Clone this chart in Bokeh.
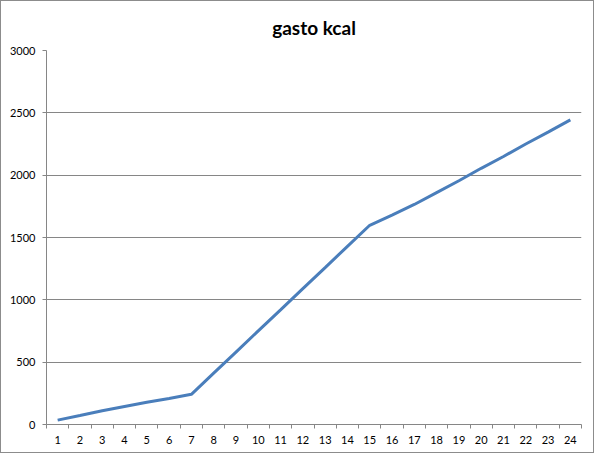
from bokeh.plotting import figure
from bokeh.models import Range1d, FixedTicker, ColumnDataSource
from bokeh.embed import file_html
from bokeh.resources import INLINE

# Data
hours = list(range(1, 25))
kcal = [35, 72, 110, 145, 178, 208, 242, 412, 581, 751, 920, 1090, 1259, 1429,
        1598, 1680, 1765, 1860, 1955, 2055, 2150, 2250, 2345, 2444]
x_labels = [str(h) for h in hours]
y_ticks = [0, 500, 1000, 1500, 2000, 2500, 3000]
title_text = "gasto kcal"

src = ColumnDataSource(data=dict(x=hours, y=kcal))

p = figure(width=594, height=453, output_backend="svg", toolbar_location=None,
           x_range=Range1d(0.5, len(hours) + 0.5), y_range=Range1d(0, 3000),
           min_border_left=45, min_border_right=14, min_border_top=49, min_border_bottom=30)

p.title.text = title_text
p.title.align = "center"
p.title.text_font = "Lato"
p.title.text_font_style = "bold"
p.title.text_font_size = "19px"
p.title.text_color = "#000000"
p.title.standoff = 24

p.line("x", "y", source=src, line_color="#4a7ebb", line_width=3)

gray = "#868686"
p.outline_line_color = None
p.background_fill_color = "white"
p.border_fill_color = "white"

# x axis: labels at categories, tick marks between categories
xa = p.xaxis[0]
xa.ticker = FixedTicker(ticks=hours, minor_ticks=[h - 0.5 for h in hours] + [hours[-1] + 0.5])
xa.major_label_overrides = {h: lab for h, lab in zip(hours, x_labels)}
xa.major_tick_out = 0
xa.major_tick_in = 0
xa.minor_tick_out = 4
xa.minor_tick_in = 0
xa.minor_tick_line_color = gray
xa.axis_line_color = gray
xa.major_label_text_font = "Lato"
xa.major_label_text_font_size = "11px"
xa.major_label_text_color = "#000000"
xa.major_label_standoff = 7

ya = p.yaxis[0]
ya.ticker = FixedTicker(ticks=y_ticks, minor_ticks=[])
ya.major_tick_out = 4
ya.major_tick_in = 0
ya.major_tick_line_color = gray
ya.axis_line_color = gray
ya.major_label_text_font = "Lato"
ya.major_label_text_font_size = "11px"
ya.major_label_text_color = "#000000"
ya.major_label_standoff = 7

p.xgrid.visible = False
p.ygrid.ticker = FixedTicker(ticks=y_ticks)
p.ygrid.grid_line_color = gray
p.ygrid.grid_line_width = 1

p.styles = {"border": "1px solid #8c8c8c", "box-sizing": "border-box"}

open("out.html", "w").write(file_html(p, INLINE))
